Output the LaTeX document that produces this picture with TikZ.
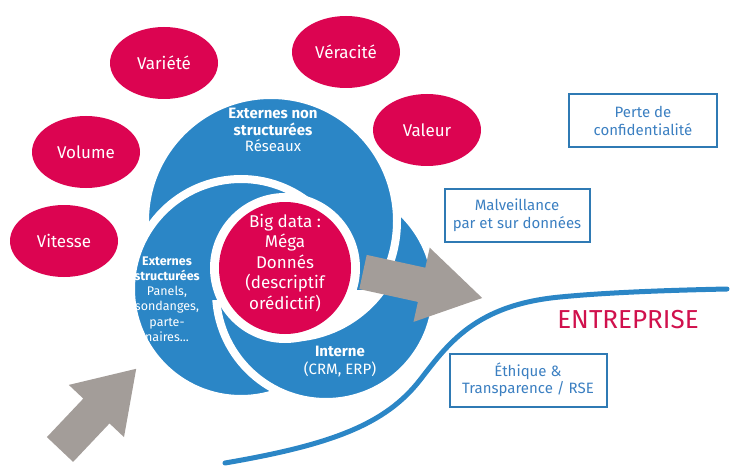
\documentclass[tikz,border=0pt]{standalone}
\usepackage{fontspec}
\setmainfont{Fira Sans}
\usepackage{tikz}
\usetikzlibrary{shapes.geometric}
\definecolor{bdred}{HTML}{DC0451}
\definecolor{cblue}{HTML}{2B86C6}
\definecolor{boxblue}{HTML}{2F7AB4}
\definecolor{txtblue}{HTML}{3B7FC1}
\definecolor{agray}{HTML}{A39D99}
\definecolor{entred}{HTML}{D0114D}
\tikzset{
  vbub/.style={ellipse, fill=bdred, text=white, minimum width=108pt, minimum height=72pt, inner sep=0pt, font=\fontsize{17}{20}\selectfont},
  blob/.style={fill=cblue, draw=white, line width=8pt},
  lbl/.style={text=white, align=center, inner sep=0pt},
  box/.style={draw=boxblue, line width=2pt, text=txtblue, align=center, minimum height=53pt, inner sep=2pt, font=\fontsize{15}{17.5}\selectfont},
  garrow/.style={fill=agray},
  road/.style={draw=cblue, line width=5pt, line cap=round}
}

\begin{document}
\begin{tikzpicture}[x=1pt, y=-1pt]
\useasboundingbox (0,0) rectangle (747,468);

\fill[blob] (326,292) circle (110);
\fill[blob] (271,221) circle (126);
\fill[blob] (241,289) circle (110);
\begin{scope}
  \clip (100,300) rectangle (470,420);
  \fill[blob] (326,292) circle (110);
\end{scope}
\begin{scope}
  \clip (285,290) rectangle (470,420);
  \fill[white] (288,222) circle (120);
\end{scope}
\fill[white] (285,268) circle (75);
\fill[bdred] (285,268) circle (66);

\fill[garrow] (366.7,254.9) -- (425.3,267.7) -- (429.7,247.7) -- (482.2,298.0)
  -- (413.5,321.9) -- (417.9,301.9) -- (359.3,289.1) -- cycle;
\fill[garrow] (46.9,437.1) -- (83.3,398.6) -- (68.8,384.9) -- (136.2,368.8)
  -- (124.0,437.1) -- (109.5,423.4) -- (73.1,461.9) -- cycle;

\node[vbub] (var) at (164,63) {Variété};
\node[vbub] (ver) at (346,52) {Véracité};
\node[vbub] (val) at (427,130) {Valeur};
\node[vbub] (vol) at (86,152) {Volume};
\node[vbub] (vit) at (64,241) {Vitesse};

\node[lbl, font=\fontsize{15}{16.5}\selectfont] (ens) at (273,130) {\textbf{Externes non}\\\textbf{structurées}\\Réseaux};
\node[lbl, font=\fontsize{12.5}{15.2}\selectfont] (es) at (167,299) {\textbf{Externes}\\\textbf{structurées}\\Panels,\\sondanges,\\parte-\\naires...};
\node[lbl, font=\fontsize{17}{20.5}\selectfont] (big) at (285,263) {Big data :\\Méga\\Donnés\\(descriptif\\orédictif)};
\node[lbl, font=\fontsize{15}{18}\selectfont] (int) at (340,362) {\textbf{Interne}\\(CRM, ERP)};

\node[box, minimum width=148pt] (conf) at (643,121) {Perte de\\confidentialité};
\node[box, minimum width=145pt] (malv) at (517,215) {Malveillance\\par et sur données};
\node[box, minimum width=157pt] (eth) at (528,380) {Éthique \&\\Transparence / RSE};

\draw[road] (225,463) .. controls (330,445) and (385,425) .. (420,380)
  .. controls (448,344) and (475,305) .. (560,297)
  .. controls (611,292) and (680,290) .. (727,289);
\node[text=entred, font=\fontsize{26}{30}\selectfont, inner sep=0pt] (ent) at (628,320) {ENTREPRISE};
\end{tikzpicture}
\end{document}
